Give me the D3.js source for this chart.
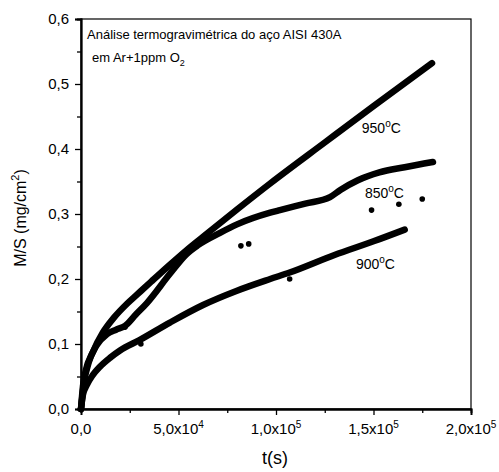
<!DOCTYPE html>
<html>
<head>
<meta charset="utf-8">
<script src="https://cdn.jsdelivr.net/npm/d3@7"></script>
<style>
  body { margin: 0; background: #fff; }
  text { font-family: "Liberation Sans", Arial, sans-serif; fill: #000; }
</style>
</head>
<body>
<div class="chart"></div>
<script>
// curve readings: time (s) and mass gain (mg/cm2)
var t950 = [0, 1000, 2500, 6000, 11300, 17000, 23600, 28700, 36000, 45600, 54000, 62600, 80000, 97000, 125000, 150000, 180000];
var v950 = [0, 0.035, 0.06, 0.087, 0.118, 0.141, 0.162, 0.176, 0.196, 0.222, 0.244, 0.265, 0.307, 0.347, 0.41, 0.466, 0.532];

var t850 = [0, 1500, 4000, 8000, 13300, 18000, 22600, 28000, 33800, 45600, 54000, 60000, 71300, 80000, 97000, 102000, 115000, 127700, 133000, 142000, 153000, 166000, 180500];
var v850 = [0, 0.04, 0.072, 0.098, 0.115, 0.122, 0.128, 0.145, 0.163, 0.208, 0.238, 0.252, 0.271, 0.284, 0.302, 0.306, 0.316, 0.326, 0.337, 0.352, 0.364, 0.372, 0.38];

var t900 = [0, 1000, 3000, 6000, 9700, 15000, 20000, 30000, 45600, 62600, 80000, 97000, 107000, 130000, 150000, 166000];
var v900 = [0, 0.022, 0.037, 0.052, 0.065, 0.079, 0.09, 0.106, 0.133, 0.16, 0.182, 0.2, 0.21, 0.237, 0.258, 0.276];

var dotT = [22600, 30700, 82000, 86000, 107000, 149000, 163000, 175000];
var dotV = [0.126, 0.100, 0.251, 0.254, 0.200, 0.306, 0.315, 0.323];

var labelTxt = ["950", "850", "900"];
var labelT = [144000, 145600, 141000];
var labelV = [0.425, 0.325, 0.215];

var xMajor = [0, 50000, 100000, 150000, 200000];
var xMant = ["0,0", "5,0", "1,0", "1,5", "2,0"];
var xExp = ["", "4", "5", "5", "5"];
var yMajor = [0, 0.1, 0.2, 0.3, 0.4, 0.5, 0.6];
var yLabels = ["0,0", "0,1", "0,2", "0,3", "0,4", "0,5", "0,6"];

var margin = {top: 19, right: 28, bottom: 63, left: 81},
    width = 499 - margin.left - margin.right,
    height = 472 - margin.top - margin.bottom;

var svg = d3.select(".chart").append("svg")
    .attr("width", 499)
    .attr("height", 472)
  .append("g")
    .attr("transform", "translate(" + margin.left + "," + margin.top + ")");

var x = d3.scaleLinear().domain([0, 200000]).range([0, width]);
var y = d3.scaleLinear().domain([0, 0.6]).range([height, 0]);

// frame
svg.append("rect")
    .attr("width", width)
    .attr("height", height)
    .attr("fill", "none")
    .attr("stroke", "#000")
    .attr("stroke-width", 1.2);

// axes
svg.append("g")
    .attr("transform", "translate(0," + height + ")")
    .call(d3.axisBottom(x).tickValues(xMajor).tickSize(6).tickFormat(""));
svg.append("g")
    .attr("transform", "translate(0," + height + ")")
    .call(d3.axisBottom(x).tickValues([25000, 75000, 125000, 175000]).tickSize(4).tickFormat(""));
svg.append("g")
    .call(d3.axisLeft(y).tickValues(yMajor).tickSize(6).tickFormat(""));
svg.append("g")
    .call(d3.axisLeft(y).tickValues([0.05, 0.15, 0.25, 0.35, 0.45, 0.55]).tickSize(4).tickFormat(""));
svg.selectAll(".domain").attr("stroke-width", 1.8);
svg.selectAll(".tick line").attr("stroke-width", 1.3);

// tick labels
xMajor.forEach(function(d, i) {
  var t = svg.append("text")
      .attr("x", x(d))
      .attr("y", height + 25)
      .attr("text-anchor", "middle")
      .style("font-size", "15px");
  t.append("tspan").text(xMant[i] + (xExp[i] ? "x10" : ""));
  if (xExp[i]) t.append("tspan").attr("dy", -6).style("font-size", "10px").text(xExp[i]);
});
yMajor.forEach(function(d, i) {
  svg.append("text")
      .attr("x", -12)
      .attr("y", y(d) + 5)
      .attr("text-anchor", "end")
      .style("font-size", "15px")
      .text(yLabels[i]);
});

// axis titles
svg.append("text")
    .attr("x", width / 2 - 1)
    .attr("y", height + 55)
    .attr("text-anchor", "middle")
    .style("font-size", "18px")
    .text("t(s)");
var yt = svg.append("text")
    .attr("transform", "translate(-55," + (height / 2 + 4) + ") rotate(-90)")
    .attr("text-anchor", "middle")
    .style("font-size", "16px");
yt.append("tspan").text("M/S (mg/cm");
yt.append("tspan").attr("dy", -7).style("font-size", "11px").text("2");
yt.append("tspan").attr("dy", 7).text(")");

// curves
var line = d3.line()
    .x(function(d) { return x(d[0]); })
    .y(function(d) { return y(d[1]); })
    .curve(d3.curveMonotoneX);

[[t950, v950], [t850, v850], [t900, v900]].forEach(function(s) {
  svg.append("path")
      .datum(d3.zip(s[0], s[1]))
      .attr("d", line)
      .attr("fill", "none")
      .attr("stroke", "#000")
      .attr("stroke-width", 6.5)
      .attr("stroke-linecap", "round")
      .attr("stroke-linejoin", "round");
});

svg.selectAll(".dot")
    .data(d3.zip(dotT, dotV))
  .enter().append("circle")
    .attr("class", "dot")
    .attr("cx", function(d) { return x(d[0]); })
    .attr("cy", function(d) { return y(d[1]); })
    .attr("r", 2.8);

// curve labels
labelTxt.forEach(function(l, i) {
  var t = svg.append("text")
      .attr("x", x(labelT[i]))
      .attr("y", y(labelV[i]))
      .style("font-size", "14px");
  t.append("tspan").text(l);
  t.append("tspan").attr("dy", -6).style("font-size", "10px").text("o");
  t.append("tspan").attr("dy", 6).text("C");
});

// title
var title = svg.append("g").attr("transform", "translate(6,20)");
title.append("text").style("font-size", "13px").text("Análise termogravimétrica do aço AISI 430A");
var l2 = title.append("text").attr("x", 5).attr("y", 23).style("font-size", "13px");
l2.append("tspan").text("em Ar+1ppm O");
l2.append("tspan").attr("dy", 4).style("font-size", "9px").text("2");
</script>
</body>
</html>
